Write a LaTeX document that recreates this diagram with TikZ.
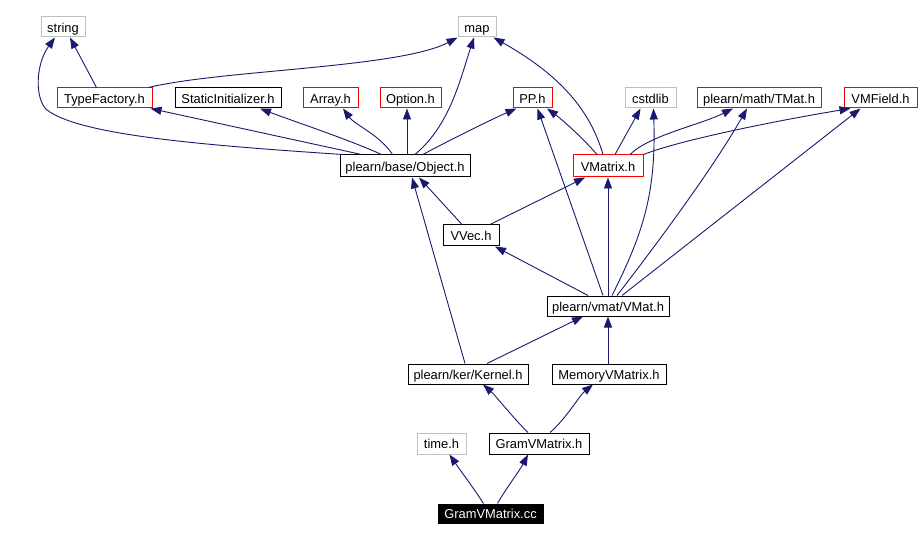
\documentclass[tikz,border=0pt]{standalone}
\usepackage{fontspec}
\setmainfont{Liberation Sans}
\usetikzlibrary{arrows.meta}
\definecolor{edgeblue}{HTML}{191970}
\definecolor{boxgray}{HTML}{BFBFBF}
\tikzset{
  box/.style={draw, line width=1pt, inner sep=0pt, minimum height=20pt, text height=10.5pt, text depth=0pt, font=\fontsize{12.9}{14}\selectfont, anchor=center},
  blackbox/.style={box, draw=black},
  redbox/.style={box, draw=red},
  graybox/.style={box, draw=boxgray},
  rootbox/.style={box, draw=black, fill=black, text=white},
  dep/.style={draw=edgeblue, line width=0.9pt, arrows={-{Triangle[length=11pt,width=8pt,fill=edgeblue]}}}
}
\begin{document}
\begin{tikzpicture}[x=1pt,y=-1pt]
\useasboundingbox (0,0) rectangle (921,540);
\fill[white] (0,0) rectangle (921,540);
% nodes
\node[graybox, minimum width=44pt] (string) at (63,27) {string};
\node[graybox, minimum width=38pt] (map) at (477,27) {map};
\node[redbox, minimum width=95pt] (tf) at (104.5,98) {TypeFactory.h};
\node[blackbox, minimum width=106pt] (static) at (228,98) {StaticInitializer.h};
\node[redbox, minimum width=55pt] (array) at (330.5,98) {Array.h};
\node[redbox, minimum width=61pt] (option) at (410.5,98) {Option.h};
\node[redbox, minimum width=39pt] (pp) at (532.5,98) {PP.h};
\node[graybox, minimum width=51pt] (cstdlib) at (650.5,98) {cstdlib};
\node[redbox, minimum width=124pt] (tmat) at (759,98) {plearn/math/TMat.h};
\node[redbox, minimum width=73pt] (vmf) at (880.5,98) {VMField.h};
\node[blackbox, minimum width=130pt, minimum height=22pt] (obj) at (405,166) {plearn/base/Object.h};
\node[redbox, minimum width=70pt, minimum height=22pt] (vmx) at (608,166) {VMatrix.h};
\node[blackbox, minimum width=56pt, minimum height=21pt] (vvec) at (471,235.5) {VVec.h};
\node[blackbox, minimum width=122pt] (vmat) at (608,306) {plearn/vmat/VMat.h};
\node[blackbox, minimum width=120pt] (kernel) at (468,374) {plearn/ker/Kernel.h};
\node[blackbox, minimum width=114pt] (mem) at (609,374) {MemoryVMatrix.h};
\node[graybox, minimum width=49pt, minimum height=21pt] (time) at (441.5,443.5) {time.h};
\node[blackbox, minimum width=100pt, minimum height=21pt] (gramh) at (539,443.5) {GramVMatrix.h};
\node[rootbox, minimum width=105pt, minimum height=19pt] (cc) at (490.5,513.5) {GramVMatrix.cc};
% edges
\draw[dep] ([xshift=3pt]obj.north west) .. controls (200,145) and (80,135) .. (47,110) .. controls (35,100) and (35,65) .. ([xshift=-8pt]string.south);
\draw[dep] ([xshift=-8pt]tf.north) -- ([xshift=7pt]string.south);
\draw[dep] ([xshift=44pt]tf.north) .. controls (220,70) and (400,68) .. (map.south west);
\draw[dep] ([xshift=22pt]obj.north west) -- ([xshift=-2pt]tf.south east);
\draw[dep] ([xshift=42pt]obj.north west) .. controls (350,140) and (290,120) .. ([xshift=32pt]static.south);
\draw[dep] ([xshift=53pt]obj.north west) .. controls (380,135) and (355,125) .. ([xshift=12.5pt]array.south);
\draw[dep] ([xshift=2pt]obj.north) -- ([xshift=-3.5pt]option.south);
\draw[dep] ([xshift=10pt]obj.north) .. controls (450,125) and (460,80) .. ([xshift=-3pt]map.south);
\draw[dep] ([xshift=18pt]obj.north) .. controls (440,145) and (490,120) .. ([xshift=-16pt]pp.south);
\draw[dep] ([xshift=-5pt]vmx.north) .. controls (590,110) and (560,75) .. ([xshift=-3pt]map.south east);
\draw[dep] ([xshift=-11pt]vmx.north) .. controls (580,135) and (560,118) .. ([xshift=14.5pt]pp.south);
\draw[dep] ([xshift=7pt]vmx.north) -- ([xshift=-10pt]cstdlib.south);
\draw[dep] ([xshift=22pt]vmx.north) .. controls (650,135) and (700,125) .. ([xshift=-26pt]tmat.south);
\draw[dep] (vmx.north east) .. controls (680,140) and (780,120) .. ([xshift=-30pt]vmf.south);
\draw[dep] ([xshift=-9pt]vvec.north) -- ([xshift=14pt]obj.south);
\draw[dep] ([xshift=19pt]vvec.north) -- ([xshift=-23pt]vmx.south);
\draw[dep] ([xshift=-20pt]vmat.north) -- ([xshift=24pt]vvec.south);
\draw[dep] ([xshift=-5pt]vmat.north) -- ([xshift=5pt]pp.south);
\draw[dep] (vmat.north) -- (vmx.south);
\draw[dep] ([xshift=4pt]vmat.north) .. controls (645,230) and (656,190) .. ([xshift=3pt]cstdlib.south);
\draw[dep] ([xshift=9pt]vmat.north) .. controls (660,240) and (715,165) .. ([xshift=-12pt]tmat.south);
\draw[dep] ([xshift=14pt]vmat.north) -- ([xshift=-20pt]vmf.south);
\draw[dep] ([xshift=-3pt]kernel.north) -- ([xshift=7pt]obj.south);
\draw[dep] ([xshift=19pt]kernel.north) -- ([xshift=-25pt]vmat.south);
\draw[dep] ([xshift=-1pt]mem.north) -- (vmat.south);
\draw[dep] ([xshift=-11pt]gramh.north) .. controls (515,420) and (495,395) .. ([xshift=15pt]kernel.south);
\draw[dep] ([xshift=11pt]gramh.north) .. controls (565,420) and (580,395) .. ([xshift=-16pt]mem.south);
\draw[dep] ([xshift=-7pt]cc.north) .. controls (475,490) and (460,470) .. ([xshift=8pt]time.south);
\draw[dep] ([xshift=7pt]cc.north) .. controls (505,490) and (520,470) .. ([xshift=-11pt]gramh.south);
\end{tikzpicture}
\end{document}
